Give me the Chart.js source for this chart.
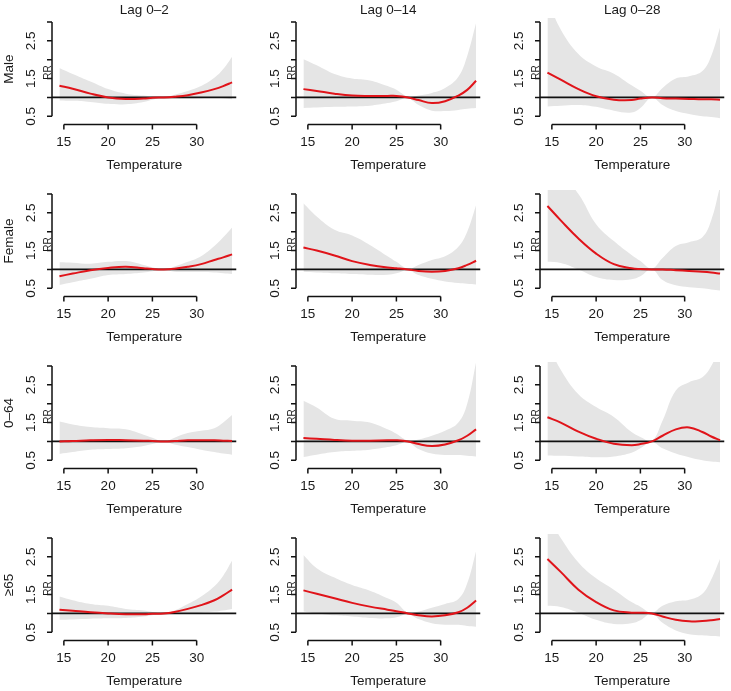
<!DOCTYPE html>
<html>
<head>
<meta charset="utf-8">
<script src="https://cdn.jsdelivr.net/npm/chart.js@4.4.1/dist/chart.umd.min.js"></script>
<style>
  html, body { margin: 0; padding: 0; background: #fff; overflow: hidden; }
  #grid { position: relative; width: 731px; height: 691px; }
  #grid canvas { position: absolute; }
</style>
</head>
<body>
<div id="grid"></div>
<script>
const temps = [14.5, 16, 18, 20, 22, 24, 25, 26.3, 27.5, 29, 30.5, 32, 33, 34];
const lagLabels = ['Lag 0–2', 'Lag 0–14', 'Lag 0–28'];
const groupLabels = ['Male', 'Female', '0–64', '≥65'];
const xTicks = [15, 20, 25, 30];
const yTicks = [0.5, 1, 1.5, 2, 2.5, 3];
const yTickLabels = ['0.5', '1.5', '2.5'];
const refRR = 1;

// relative risk + upper / lower 95% CI
const maleLag2RR  = [1.31, 1.23, 1.10, 1.00, 0.96, 0.97, 0.99, 1.00, 1.02, 1.06, 1.13, 1.22, 1.30, 1.40];
const maleLag2Hi  = [1.78, 1.62, 1.42, 1.22, 1.10, 1.05, 1.03, 1.00, 1.07, 1.17, 1.30, 1.52, 1.75, 2.08];
const maleLag2Lo  = [0.92, 0.91, 0.88, 0.83, 0.82, 0.88, 0.94, 1.00, 0.97, 0.97, 0.98, 0.99, 0.98, 0.95];
const maleLag14RR = [1.22, 1.17, 1.10, 1.05, 1.04, 1.04, 1.04, 1.00, 0.93, 0.85, 0.90, 1.05, 1.20, 1.44];
const maleLag14Hi = [2.01, 1.85, 1.62, 1.50, 1.45, 1.30, 1.20, 1.02, 1.05, 1.12, 1.25, 1.55, 2.10, 2.97];
const maleLag14Lo = [0.72, 0.73, 0.75, 0.76, 0.78, 0.85, 0.90, 0.98, 0.80, 0.65, 0.64, 0.67, 0.70, 0.72];
const maleLag28RR = [1.66, 1.47, 1.22, 1.03, 0.94, 0.93, 0.97, 1.00, 0.98, 0.97, 0.96, 0.95, 0.95, 0.94];
const maleLag28Hi = [3.60, 2.80, 2.15, 1.82, 1.63, 1.32, 1.18, 1.00, 1.25, 1.50, 1.56, 1.70, 2.10, 2.85];
const maleLag28Lo = [0.76, 0.78, 0.80, 0.75, 0.65, 0.60, 0.72, 1.00, 0.80, 0.64, 0.56, 0.50, 0.48, 0.45];

const femaleLag2RR  = [0.82, 0.89, 0.98, 1.04, 1.07, 1.03, 1.01, 1.00, 1.02, 1.07, 1.14, 1.25, 1.32, 1.40];
const femaleLag2Hi  = [1.19, 1.18, 1.15, 1.20, 1.22, 1.12, 1.06, 1.00, 1.08, 1.20, 1.35, 1.62, 1.85, 2.11];
const femaleLag2Lo  = [0.59, 0.66, 0.75, 0.85, 0.88, 0.92, 0.95, 1.00, 0.94, 0.93, 0.93, 0.92, 0.90, 0.88];
const femaleLag14RR = [1.58, 1.50, 1.37, 1.22, 1.12, 1.05, 1.03, 1.00, 0.96, 0.94, 0.96, 1.03, 1.12, 1.23];
const femaleLag14Hi = [2.75, 2.40, 2.05, 1.90, 1.65, 1.35, 1.20, 1.02, 1.12, 1.25, 1.35, 1.60, 2.00, 2.70];
const femaleLag14Lo = [0.94, 0.92, 0.90, 0.88, 0.86, 0.86, 0.90, 0.98, 0.85, 0.75, 0.68, 0.64, 0.62, 0.60];
const femaleLag28RR = [2.68, 2.30, 1.82, 1.42, 1.14, 1.03, 1.01, 1.00, 1.00, 0.98, 0.96, 0.94, 0.92, 0.89];
const femaleLag28Hi = [3.60, 3.50, 3.00, 2.20, 1.75, 1.38, 1.22, 1.02, 1.30, 1.62, 1.72, 1.85, 2.30, 3.20];
const femaleLag28Lo = [1.20, 1.17, 1.00, 0.80, 0.72, 0.74, 0.82, 1.00, 0.72, 0.58, 0.53, 0.50, 0.47, 0.44];

const youngLag2RR  = [1.00, 1.01, 1.03, 1.04, 1.03, 1.02, 1.01, 1.00, 1.01, 1.03, 1.03, 1.03, 1.02, 1.01];
const youngLag2Hi  = [1.53, 1.45, 1.38, 1.35, 1.32, 1.18, 1.10, 1.00, 1.10, 1.22, 1.28, 1.35, 1.50, 1.70];
const youngLag2Lo  = [0.67, 0.72, 0.78, 0.80, 0.82, 0.88, 0.93, 1.00, 0.92, 0.85, 0.78, 0.72, 0.68, 0.65];
const youngLag14RR = [1.09, 1.07, 1.04, 1.02, 1.02, 1.03, 1.03, 1.00, 0.93, 0.88, 0.92, 1.03, 1.15, 1.32];
const youngLag14Hi = [2.08, 1.90, 1.60, 1.55, 1.50, 1.32, 1.20, 1.02, 1.05, 1.15, 1.28, 1.50, 2.00, 3.10];
const youngLag14Lo = [0.59, 0.65, 0.72, 0.75, 0.78, 0.85, 0.90, 0.98, 0.80, 0.68, 0.64, 0.64, 0.62, 0.60];
const youngLag28RR = [1.64, 1.50, 1.26, 1.07, 0.94, 0.90, 0.93, 1.00, 1.15, 1.32, 1.37, 1.25, 1.13, 1.03];
const youngLag28Hi = [3.60, 2.90, 2.25, 1.91, 1.65, 1.25, 1.12, 1.02, 1.55, 2.35, 2.57, 2.70, 3.00, 3.50];
const youngLag28Lo = [0.63, 0.62, 0.60, 0.58, 0.60, 0.70, 0.82, 0.98, 0.82, 0.68, 0.58, 0.50, 0.47, 0.45];

const oldLag2RR  = [1.10, 1.07, 1.03, 1.00, 0.98, 0.98, 0.99, 1.00, 1.04, 1.12, 1.22, 1.35, 1.48, 1.63];
const oldLag2Hi  = [1.45, 1.35, 1.25, 1.20, 1.12, 1.08, 1.04, 1.00, 1.08, 1.25, 1.45, 1.72, 2.00, 2.40];
const oldLag2Lo  = [0.83, 0.84, 0.86, 0.87, 0.88, 0.92, 0.95, 1.00, 0.99, 1.00, 1.02, 1.05, 1.08, 1.12];
const oldLag14RR = [1.61, 1.52, 1.40, 1.28, 1.18, 1.10, 1.06, 1.00, 0.95, 0.92, 0.95, 1.03, 1.15, 1.34];
const oldLag14Hi = [2.55, 2.20, 1.95, 1.75, 1.60, 1.40, 1.28, 1.02, 1.05, 1.15, 1.25, 1.38, 1.80, 2.65];
const oldLag14Lo = [1.05, 1.00, 0.95, 0.92, 0.88, 0.87, 0.90, 0.98, 0.85, 0.74, 0.70, 0.70, 0.67, 0.65];
const oldLag28RR = [2.44, 2.10, 1.63, 1.30, 1.08, 1.02, 1.02, 1.00, 0.92, 0.83, 0.79, 0.80, 0.82, 0.85];
const oldLag28Hi = [3.60, 3.00, 2.35, 1.93, 1.63, 1.30, 1.18, 1.02, 1.20, 1.32, 1.36, 1.52, 1.90, 2.45];
const oldLag28Lo = [1.20, 1.17, 1.02, 0.83, 0.72, 0.74, 0.82, 1.00, 0.75, 0.55, 0.45, 0.42, 0.40, 0.39];

const panels = [
  [[maleLag2RR, maleLag2Hi, maleLag2Lo], [maleLag14RR, maleLag14Hi, maleLag14Lo], [maleLag28RR, maleLag28Hi, maleLag28Lo]],
  [[femaleLag2RR, femaleLag2Hi, femaleLag2Lo], [femaleLag14RR, femaleLag14Hi, femaleLag14Lo], [femaleLag28RR, femaleLag28Hi, femaleLag28Lo]],
  [[youngLag2RR, youngLag2Hi, youngLag2Lo], [youngLag14RR, youngLag14Hi, youngLag14Lo], [youngLag28RR, youngLag28Hi, youngLag28Lo]],
  [[oldLag2RR, oldLag2Hi, oldLag2Lo], [oldLag14RR, oldLag14Hi, oldLag14Lo], [oldLag28RR, oldLag28Hi, oldLag28Lo]],
];

const PANEL_W = 244, PANEL_H = 172;
const X_MIN = 13.66, X_MAX = 34.5;
const Y_MIN = 0.296, Y_MAX = 3.104;
const FONT = '"Liberation Sans", Arial, Helvetica, sans-serif';

// R style axes: lines only between first and last tick, rotated y labels
const rAxes = {
  id: 'rAxes',
  afterDraw(chart, args, opts) {
    const { ctx, chartArea: a, scales: { x, y } } = chart;
    ctx.save();
    ctx.strokeStyle = '#111';
    ctx.lineWidth = 1.5;
    ctx.beginPath();
    ctx.moveTo(a.left, y.getPixelForValue(yTicks[0]));
    ctx.lineTo(a.left, y.getPixelForValue(yTicks[yTicks.length - 1]));
    yTicks.forEach(v => {
      const py = y.getPixelForValue(v);
      ctx.moveTo(a.left, py);
      ctx.lineTo(a.left - 5, py);
    });
    const xb = a.bottom + 0.5;
    ctx.moveTo(x.getPixelForValue(xTicks[0]), xb);
    ctx.lineTo(x.getPixelForValue(xTicks[xTicks.length - 1]), xb);
    xTicks.forEach(v => {
      const px = x.getPixelForValue(v);
      ctx.moveTo(px, xb);
      ctx.lineTo(px, xb + 5);
    });
    ctx.stroke();

    ctx.fillStyle = '#1a1a1a';
    ctx.textAlign = 'center';
    ctx.textBaseline = 'middle';
    ctx.font = '13.5px ' + FONT;
    xTicks.forEach(v => ctx.fillText(String(v), x.getPixelForValue(v), a.bottom + 18));
    ctx.fillText('Temperature', (a.left + a.right) / 2, a.bottom + 41);

    const vText = (text, px, py) => {
      ctx.save();
      ctx.translate(px, py);
      ctx.rotate(-Math.PI / 2);
      ctx.fillText(text, 0, 0);
      ctx.restore();
    };
    yTickLabels.forEach(t => vText(t, a.left - 20.5, y.getPixelForValue(Number(t))));
    const midY = (a.top + a.bottom) / 2;
    ctx.font = '10px ' + FONT;
    vText('RR', a.left - 4, midY + 1.5);

    ctx.font = '13.5px ' + FONT;
    if (opts.row === 0) ctx.fillText(lagLabels[opts.col], (a.left + a.right) / 2, 10.5);
    if (opts.col === 0) vText(groupLabels[opts.row], 9.5, midY - 2);
    ctx.restore();
  }
};

const grid = document.getElementById('grid');
const pts = arr => temps.map((t, i) => ({ x: t, y: arr[i] }));

panels.forEach((rowPanels, row) => {
  rowPanels.forEach(([rr, hi, lo], col) => {
    const canvas = document.createElement('canvas');
    canvas.width = PANEL_W;
    canvas.height = PANEL_H;
    canvas.style.left = (col * PANEL_W) + 'px';
    canvas.style.top = (row * PANEL_H) + 'px';
    grid.appendChild(canvas);

    new Chart(canvas, {
      type: 'line',
      data: {
        datasets: [
          { data: pts(hi), borderColor: 'rgba(0,0,0,0)', borderWidth: 0, backgroundColor: '#e5e5e5', fill: '+1', tension: 0.4, order: 3 },
          { data: pts(lo), borderColor: 'rgba(0,0,0,0)', borderWidth: 0, fill: false, tension: 0.4, order: 3 },
          { data: [{ x: X_MIN, y: refRR }, { x: X_MAX, y: refRR }], borderColor: '#111', borderWidth: 1.7, fill: false, order: 1 },
          { data: pts(rr), borderColor: '#e0141a', borderWidth: 2, fill: false, tension: 0.4, order: 0 },
        ]
      },
      options: {
        responsive: false,
        animation: false,
        events: [],
        elements: { point: { radius: 0 } },
        layout: { padding: { left: 52, right: 7.5, top: 18, bottom: 48 } },
        scales: {
          x: { type: 'linear', min: X_MIN, max: X_MAX, display: false },
          y: { type: 'linear', min: Y_MIN, max: Y_MAX, display: false },
        },
        plugins: {
          legend: { display: false },
          tooltip: { enabled: false },
          rAxes: { row, col },
        }
      },
      plugins: [rAxes]
    });
  });
});
</script>
</body>
</html>
